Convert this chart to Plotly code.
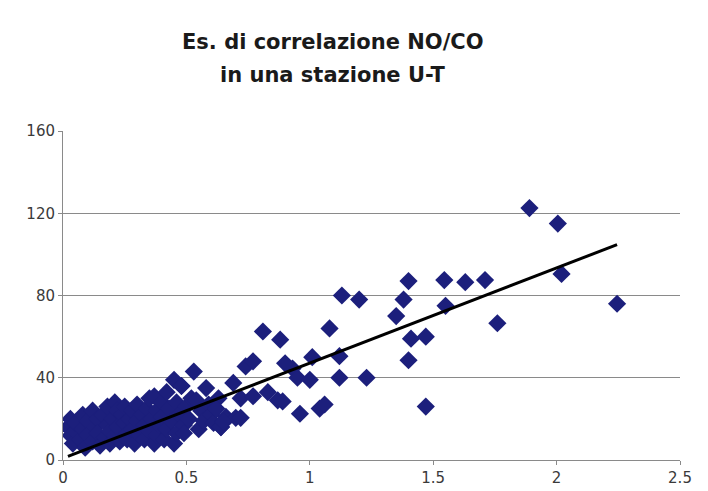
import plotly.graph_objects as go

# CO (x) and NO (y) paired hourly readings
co_values = [
    0.02, 0.03, 0.03, 0.04, 0.05, 0.05,
    0.07, 0.08, 0.08, 0.09, 0.10, 0.10,
    0.12, 0.12, 0.13, 0.14, 0.14, 0.15,
    0.16, 0.17, 0.18, 0.18, 0.19, 0.19,
    0.20, 0.21, 0.21, 0.22, 0.22, 0.23,
    0.24, 0.25, 0.25, 0.26, 0.26, 0.27,
    0.28, 0.28, 0.29, 0.30, 0.30, 0.31,
    0.32, 0.33, 0.33, 0.34, 0.35, 0.35,
    0.36, 0.37, 0.37, 0.38, 0.38, 0.39,
    0.40, 0.40, 0.41, 0.42, 0.42, 0.43,
    0.44, 0.45, 0.45, 0.46, 0.46, 0.47,
    0.48, 0.49, 0.49, 0.50, 0.51, 0.52,
    0.53, 0.54, 0.55, 0.56, 0.57, 0.58,
    0.59, 0.60, 0.61, 0.62, 0.63, 0.64, 0.65, 0.66,
    0.48, 0.62, 0.66, 0.64, 0.70, 0.65, 0.72, 0.69,
    0.72, 0.77, 0.83, 0.87, 0.74, 0.77, 0.93,
    0.81, 0.88, 0.90, 0.95, 1.00, 1.12, 1.23,
    0.89, 0.96, 1.04, 1.06, 1.47,
    1.01, 1.12, 1.08, 1.13, 1.20, 1.35, 1.38,
    1.40, 1.41, 1.47, 1.40, 1.55, 1.545, 1.63, 1.71, 1.76,
    1.89, 2.005, 2.02, 2.245,
]
no_values = [
    16, 12, 20, 8, 14, 18,
    10, 22, 15, 6, 19, 12,
    24, 9, 16, 20, 13, 7,
    22, 11, 17, 26, 14, 8,
    20, 28, 12, 24, 16, 9,
    22, 18, 26, 13, 10, 20,
    24, 15, 8, 19, 27, 12,
    22, 17, 10, 25, 14, 30,
    20, 8, 31, 24, 12, 17,
    28, 21, 10, 15, 33, 25,
    19, 39, 8, 13, 28, 22,
    36, 17, 13, 26, 20, 30,
    43, 29, 15, 24, 19, 35,
    27, 22, 18, 25, 30, 16, 19, 21,
    36, 25, 19.5, 16, 20.5, 18.5, 30, 37.5,
    20.5, 31, 33, 29, 45.5, 48, 44.5,
    62.5, 58.5, 47, 40, 39, 40, 40,
    28.5, 22.5, 25, 27, 26,
    50, 50.5, 64, 80, 78, 70, 78,
    48.5, 59, 60, 87, 75, 87.5, 86.5, 87.5, 66.5,
    122.5, 115, 90.5, 76,
]

# Linear trend line (least-squares fit reported for the station)
trend_slope = 46.3
trend_intercept = 0.8

title_lines = ["Es. di correlazione NO/CO", "in una stazione U-T"]

x_ticks = [0, 0.5, 1, 1.5, 2, 2.5]
x_tick_text = ["0", "0.5", "1", "1.5", "2", "2.5"]
y_ticks = [0, 40, 80, 120, 160]

trend_x = [min(co_values), max(co_values)]
trend_y = [trend_intercept + trend_slope * v for v in trend_x]

fig = go.Figure()
fig.add_trace(go.Scatter(
    x=co_values, y=no_values, mode="markers",
    marker=dict(symbol="diamond", size=14, color="#1c1f7c",
                line=dict(width=0)),
    showlegend=False,
))
fig.add_trace(go.Scatter(
    x=trend_x, y=trend_y, mode="lines",
    line=dict(color="#000000", width=3),
    showlegend=False,
))

title_font = dict(family="DejaVu Sans", size=21, color="#1a1a1a", weight="bold")
for text, ypos in zip(title_lines, [1.27, 1.17]):
    fig.add_annotation(
        text=text, xref="paper", yref="paper", x=0.4376, y=ypos,
        xanchor="center", yanchor="middle", showarrow=False, font=title_font,
    )

tick_font = dict(family="DejaVu Sans", size=15, color="#3a3a3a")

fig.update_layout(
    width=708, height=491,
    margin=dict(l=63, r=28, t=131, b=31),
    paper_bgcolor="white", plot_bgcolor="white",
    xaxis=dict(
        range=[0, 2.5], tickvals=x_ticks, ticktext=x_tick_text,
        showgrid=False, zeroline=False, automargin=False,
        showline=True, linecolor="#8a8a8a", linewidth=1,
        ticks="outside", ticklen=4, tickcolor="#8a8a8a",
        tickfont=tick_font,
    ),
    yaxis=dict(
        range=[0, 160], tickvals=y_ticks,
        showgrid=True, gridcolor="#8a8a8a", gridwidth=1,
        zeroline=False, automargin=False,
        showline=True, linecolor="#8a8a8a", linewidth=1,
        ticks="outside", ticklen=4, tickcolor="#8a8a8a",
        tickfont=tick_font,
    ),
)

fig.write_html("out.html")
